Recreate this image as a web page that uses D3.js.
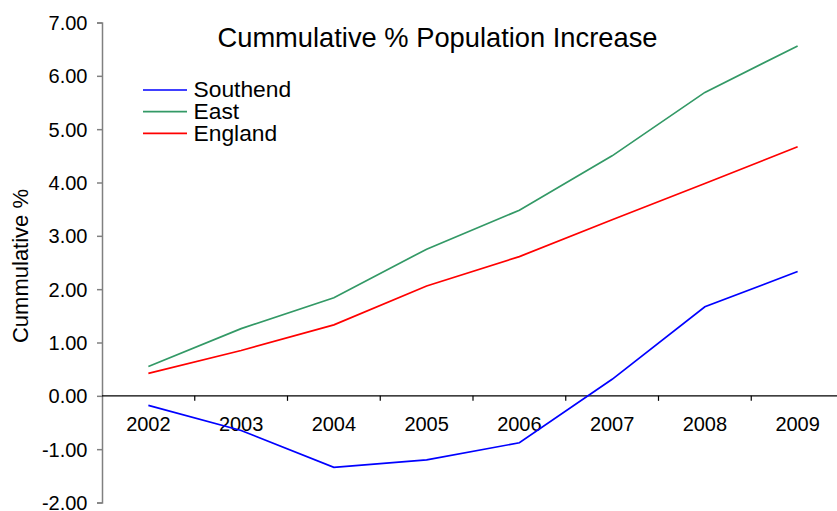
<!DOCTYPE html>
<html>
<head>
<meta charset="utf-8">
<script src="https://cdn.jsdelivr.net/npm/d3@7"></script>
<style>
  html, body { margin: 0; padding: 0; background: #fff; }
  svg { display: block; font-family: "Liberation Sans", Arial, sans-serif; }
</style>
</head>
<body>
<svg id="chart" width="837" height="511"></svg>
<script>
// Cumulative population increase since 2001, by area
const years = ["2002", "2003", "2004", "2005", "2006", "2007", "2008", "2009"];
const southend = [-0.18, -0.65, -1.34, -1.20, -0.88, 0.31, 1.67, 2.33];
const east     = [0.55, 1.26, 1.84, 2.75, 3.48, 4.50, 5.69, 6.56];
const england  = [0.42, 0.85, 1.33, 2.06, 2.61, 3.30, 3.98, 4.67];
const yTicks = [-2, -1, 0, 1, 2, 3, 4, 5, 6, 7];

const seriesNames = ["Southend", "East", "England"];
const seriesColors = ["#0000ff", "#339966", "#ff0000"];
const seriesValues = [southend, east, england];

const svg = d3.select("#chart");

const plotLeft = 102, plotRight = 844, plotTop = 22.5, plotBottom = 502.5;

const x = d3.scaleBand().domain(years).range([plotLeft, plotRight]).paddingInner(0).paddingOuter(0);
const y = d3.scaleLinear().domain([-2, 7]).range([plotBottom, plotTop]);

// two decimals, plain hyphen for negatives
const fmt = d => d3.format(".2f")(d).replace("\u2212", "-");

// Y axis (grey line, ticks outside)
const yAxis = svg.append("g")
  .attr("transform", `translate(${plotLeft},0)`)
  .call(d3.axisLeft(y).tickValues(yTicks).tickFormat(fmt).tickSizeOuter(0).tickSize(5));
yAxis.attr("font-size", null).attr("font-family", null);
yAxis.select(".domain").attr("stroke", "#808080").attr("stroke-width", 1.5);
yAxis.selectAll(".tick line").attr("stroke", "#808080").attr("stroke-width", 1.5);
yAxis.selectAll(".tick text")
  .attr("x", -14.5)
  .attr("dy", "0.35em")
  .style("font-size", "20px")
  .attr("fill", "#000");

// X axis sitting on zero, tick marks at category boundaries
const zeroY = y(0);
const xg = svg.append("g");
xg.append("line")
  .attr("x1", plotLeft).attr("x2", plotRight)
  .attr("y1", zeroY).attr("y2", zeroY)
  .attr("stroke", "#000").attr("stroke-width", 1.2);
xg.selectAll("line.tk")
  .data(years.slice(1))
  .join("line")
  .attr("class", "tk")
  .attr("x1", d => x(d)).attr("x2", d => x(d))
  .attr("y1", zeroY).attr("y2", zeroY + 5)
  .attr("stroke", "#000").attr("stroke-width", 1.2);
xg.selectAll("text")
  .data(years)
  .join("text")
  .attr("x", d => x(d) + x.bandwidth() / 2)
  .attr("y", zeroY + 35.5)
  .attr("text-anchor", "middle")
  .style("font-size", "20px")
  .attr("fill", "#000")
  .text(d => d);

// Series lines
const line = d3.line()
  .x((d, i) => x(years[i]) + x.bandwidth() / 2)
  .y(d => y(d));

seriesValues.forEach((vals, i) => {
  svg.append("path")
    .datum(vals)
    .attr("fill", "none")
    .attr("stroke", seriesColors[i])
    .attr("stroke-width", 1.7)
    .attr("d", line);
});

// Title
svg.append("text")
  .attr("x", 437.5)
  .attr("y", 47.3)
  .attr("text-anchor", "middle")
  .style("font-size", "27.3px")
  .attr("fill", "#000")
  .text("Cummulative % Population Increase");

// Y axis title
svg.append("text")
  .attr("transform", "translate(28,266) rotate(-90)")
  .attr("text-anchor", "middle")
  .style("font-size", "22px")
  .attr("fill", "#000")
  .text("Cummulative %");

// Legend
const legend = svg.append("g");
seriesNames.forEach((name, i) => {
  const ly = 90 + i * 21.7;
  legend.append("line")
    .attr("x1", 143).attr("x2", 187)
    .attr("y1", ly).attr("y2", ly)
    .attr("stroke", seriesColors[i]).attr("stroke-width", 1.7);
  legend.append("text")
    .attr("x", 193.5).attr("y", ly + 7.3)
    .style("font-size", "22.8px")
    .attr("fill", "#000")
    .text(name);
});
</script>
</body>
</html>
